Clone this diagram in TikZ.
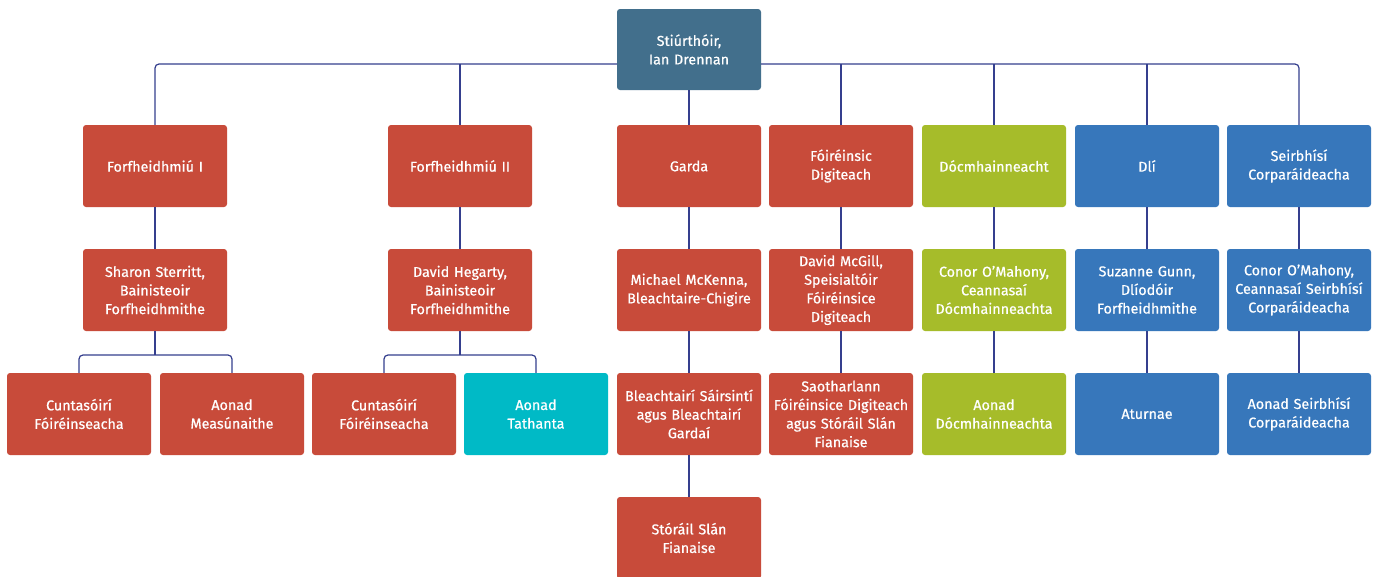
\documentclass[tikz,border=0pt]{standalone}
\usepackage{fontspec}
\setmainfont{Fira Sans}
\newfontfamily\boxfont{Fira Sans}[FakeBold=0.6]
\definecolor{cred}{HTML}{C84B3A}
\definecolor{ctop}{HTML}{426F8C}
\definecolor{cgreen}{HTML}{A6BC2A}
\definecolor{cblue}{HTML}{3777BB}
\definecolor{ccyan}{HTML}{00BAC6}
\definecolor{cline}{HTML}{353F8E}
\tikzset{
  box/.style={rectangle, rounded corners=3pt, minimum width=144pt, minimum height=82pt,
    text width=142pt, align=center, inner sep=0pt, text=white,
    font=\boxfont\fontsize{14.3}{18.6}\selectfont},
  redbox/.style={box, fill=cred},
  topbox/.style={box, fill=ctop},
  greenbox/.style={box, fill=cgreen},
  bluebox/.style={box, fill=cblue},
  cyanbox/.style={box, fill=ccyan},
  conn/.style={draw=cline, line width=1.2pt, rounded corners=4pt}
}
\begin{document}
\begin{tikzpicture}[x=1pt,y=1pt]
\useasboundingbox (0,0) rectangle (1377,-576);
\fill[white] (0,0) rectangle (1377,-576);
% top
\node[topbox, minimum height=81pt] (top) at (689,-49.5) {Stiúrthóir,\\Ian Drennan};
% row 1
\node[redbox] (f1) at (155,-166) {Forfheidhmiú I};
\node[redbox] (f2) at (460,-166) {Forfheidhmiú II};
\node[redbox] (ga) at (689,-166) {Garda};
\node[redbox] (fd) at (841,-166) {Fóiréinsic\\Digiteach};
\node[greenbox] (dc) at (994,-166) {Dócmhainneacht};
\node[bluebox] (dl) at (1147,-166) {Dlí};
\node[bluebox] (sc) at (1299,-166) {Seirbhísí\\Corparáideacha};
% row 2
\node[redbox] (ss) at (155,-290) {Sharon Sterritt,\\Bainisteoir\\Forfheidhmithe};
\node[redbox] (dh) at (460,-290) {David Hegarty,\\Bainisteoir\\Forfheidhmithe};
\node[redbox] (mm) at (689,-290) {Michael McKenna,\\Bleachtaire-Chigire};
\node[redbox] (dm) at (841,-290) {David McGill,\\Speisialtóir\\Fóiréinsice\\Digiteach};
\node[greenbox] (co1) at (994,-290) {Conor O’Mahony,\\Ceannasaí\\Dócmhainneachta};
\node[bluebox] (sg) at (1147,-290) {Suzanne Gunn,\\Dlíodóir\\Forfheidhmithe};
\node[bluebox] (co2) at (1299,-290) {Conor O’Mahony,\\Ceannasaí Seirbhísí\\Corparáideacha};
% row 3
\node[redbox] (cf1) at (79,-414) {Cuntasóirí\\Fóiréinseacha};
\node[redbox] (am) at (232,-414) {Aonad\\Measúnaithe};
\node[redbox] (cf2) at (384,-414) {Cuntasóirí\\Fóiréinseacha};
\node[cyanbox] (at) at (536,-414) {Aonad\\Tathanta};
\node[redbox] (bs) at (689,-414) {Bleachtairí Sáirsintí\\agus Bleachtairí\\Gardaí};
\node[redbox] (sf) at (841,-414) {Saotharlann\\Fóiréinsice Digiteach\\agus Stóráil Slán\\Fianaise};
\node[greenbox] (ad) at (994,-414) {Aonad\\Dócmhainneachta};
\node[bluebox] (au) at (1147,-414) {Aturnae};
\node[bluebox] (as) at (1299,-414) {Aonad Seirbhísí\\Corparáideacha};
% row 4
\node[redbox] (st) at (689,-538) {Stóráil Slán\\Fianaise};
% bus
\coordinate (busL) at (617,-64);
\coordinate (busR) at (761,-64);
\draw[conn] (busL) -| (f1.north);
\draw[conn] (busR) -| (sc.north);
\draw[conn] (f2.north) -- (f2.north |- busL);
\draw[conn] (top.south) -- (ga.north);
\draw[conn] (fd.north) -- (fd.north |- busR);
\draw[conn] (dc.north) -- (dc.north |- busR);
\draw[conn] (dl.north) -- (dl.north |- busR);
% verticals
\foreach \a/\b in {f1/ss, f2/dh, ga/mm, fd/dm, dc/co1, dl/sg, sc/co2,
                   mm/bs, dm/sf, co1/ad, sg/au, co2/as, bs/st}
  \draw[conn] (\a.south) -- (\b.north);
% branches
\coordinate (br1) at (155,-355);
\coordinate (br2) at (460,-355);
\draw[conn] (ss.south) -- (br1);
\draw[conn] (cf1.north) |- (br1) -| (am.north);
\draw[conn] (dh.south) -- (br2);
\draw[conn] (cf2.north) |- (br2) -| (at.north);
\end{tikzpicture}
\end{document}
